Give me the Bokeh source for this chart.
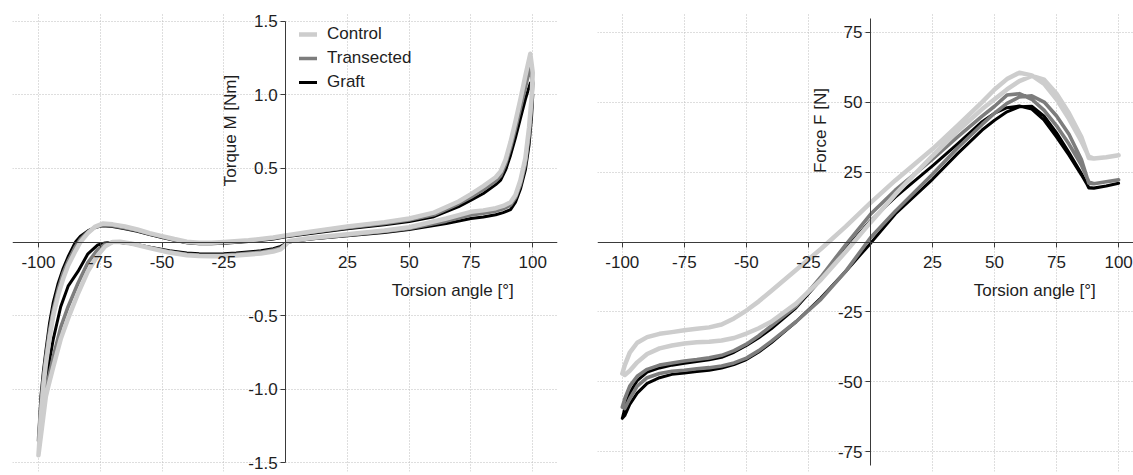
import math
from bokeh.plotting import figure
from bokeh.models import FixedTicker, PrintfTickFormatter, Label, Legend, LegendItem
from bokeh.layouts import row
from bokeh.embed import file_html
from bokeh.resources import INLINE

FONT = "Liberation Sans"

# ---------------- shared ticks / series ----------------
X_TICKS = [-100, -75, -50, -25, 25, 50, 75, 100]
TORQUE_TICKS = [-1.5, -1.0, -0.5, 0.5, 1.0, 1.5]
FORCE_TICKS = [-75, -50, -25, 25, 50, 75]
SERIES = ["Control", "Transected", "Graft"]
COLORS = {"Control": "#cdcdcd", "Transected": "#7d7d7d", "Graft": "#000000"}
WIDTHS = {"Control": 4.5, "Transected": 3.6, "Graft": 3.0}

# ---------------- data: left panel (torque) ----------------
# loading branch (angle increasing)
LEFT_X_UP = [-100, -99.5, -99, -98, -97, -95.5, -94, -92, -90, -88,
             -85, -83, -80, -77, -74, -70, -65, -60, -55, -50,
             -45, -40, -35, -30, -25, -15, -5, 0, 10, 25,
             40, 50, 60, 70, 75, 80, 85, 87, 89, 91,
             93, 95, 97, 99]
CONTROL_UP = [-1.45, -1.32, -1.18, -0.98, -0.83, -0.65, -0.50, -0.36, -0.25, -0.16,
              -0.06, 0.0, 0.06, 0.105, 0.125, 0.12, 0.105, 0.085, 0.06, 0.04,
              0.02, 0.002, -0.005, -0.005, 0.0, 0.012, 0.03, 0.045, 0.07, 0.105,
              0.135, 0.16, 0.20, 0.275, 0.325, 0.38, 0.44, 0.48, 0.56, 0.68,
              0.82, 0.97, 1.13, 1.28]
TRANSECTED_UP = [-1.35, -1.22, -1.10, -0.92, -0.78, -0.60, -0.46, -0.32, -0.21, -0.13,
                 -0.03, 0.02, 0.07, 0.10, 0.115, 0.11, 0.095, 0.078, 0.055, 0.035,
                 0.016, -0.002, -0.009, -0.009, -0.004, 0.008, 0.025, 0.04, 0.064, 0.097,
                 0.126, 0.15, 0.185, 0.26, 0.305, 0.355, 0.415, 0.45, 0.53, 0.64,
                 0.77, 0.91, 1.05, 1.19]
GRAFT_UP = [-1.38, -1.20, -1.05, -0.88, -0.74, -0.55, -0.41, -0.28, -0.18, -0.10,
            0.0, 0.04, 0.075, 0.10, 0.11, 0.105, 0.09, 0.072, 0.05, 0.03,
            0.012, -0.005, -0.012, -0.012, -0.008, 0.003, 0.02, 0.035, 0.058, 0.09,
            0.118, 0.14, 0.172, 0.24, 0.285, 0.33, 0.39, 0.42, 0.49, 0.59,
            0.71, 0.84, 0.97, 1.08]

# unloading branch (angle decreasing)
LEFT_X_DN = [100, 99.5, 98.5, 97, 95, 93, 91, 88, 85, 80,
             75, 65, 50, 40, 25, 10, 3, 1, 0, -2,
             -5, -10, -20, -25, -30, -35, -40, -47, -55, -62,
             -67, -70, -73, -76, -80, -84, -88, -91, -94, -96,
             -97, -98.5, -100]
CONTROL_DN = [1.15, 0.98, 0.78, 0.57, 0.42, 0.32, 0.27, 0.245, 0.23, 0.215,
              0.205, 0.16, 0.10, 0.078, 0.052, 0.027, 0.01, 0.003, -0.02, -0.05,
              -0.065, -0.078, -0.092, -0.097, -0.097, -0.095, -0.09, -0.072, -0.042, -0.012,
              0.002, 0.0, -0.03, -0.09, -0.2, -0.35, -0.52, -0.66, -0.85, -0.98,
              -1.05, -1.25, -1.45]
TRANSECTED_DN = [1.08, 0.92, 0.72, 0.53, 0.39, 0.30, 0.25, 0.225, 0.21, 0.195,
                 0.183, 0.142, 0.092, 0.071, 0.047, 0.023, 0.007, 0.0, -0.016, -0.04,
                 -0.055, -0.069, -0.083, -0.088, -0.09, -0.088, -0.083, -0.066, -0.038, -0.012,
                 0.0, -0.001, -0.015, -0.05, -0.14, -0.28, -0.44, -0.58, -0.78, -0.93,
                 -1.0, -1.18, -1.35]
GRAFT_DN = [1.0, 0.85, 0.66, 0.49, 0.36, 0.27, 0.22, 0.2, 0.185, 0.17,
            0.16, 0.125, 0.085, 0.065, 0.043, 0.02, 0.005, -0.002, -0.012, -0.03,
            -0.045, -0.06, -0.075, -0.08, -0.082, -0.08, -0.075, -0.06, -0.035, -0.012,
            -0.003, -0.002, -0.006, -0.02, -0.08, -0.2, -0.3, -0.44, -0.66, -0.85,
            -0.95, -1.15, -1.38]

# ---------------- data: right panel (force) ----------------
RIGHT_X = [-100, -99, -97, -94, -90, -85, -80, -75, -70, -65,
           -60, -55, -50, -45, -40, -30, -20, -10, 0, 10,
           25, 35, 45, 50, 55, 60, 65, 70, 75, 80,
           85, 88, 90, 95, 100]
CONTROL_F_A = [-47, -44, -39.5, -36, -34, -32.8, -32.2, -31.5, -31, -30.5,
               -29.5, -27.3, -24.5, -21.2, -17.5, -10, -2.5, 5.5, 14, 22,
               33.2, 41.5, 50, 54.5, 58.2, 60.5, 59.5, 56.5, 51, 44,
               36, 30.5, 29.8, 30.3, 31]
CONTROL_F_B = [-47, -47.5, -46, -43, -40, -38, -37, -36.3, -35.8, -35.6,
               -35.2, -34.3, -32.7, -30.8, -28.5, -22, -13.5, -3.5, 7, 17,
               30.8, 39.5, 47.5, 51, 54.5, 57.5, 59.3, 58, 53, 46,
               37.5, 30, 29.8, 30.3, 31]
TRANSECTED_F_A = [-59, -56, -51.5, -48, -45.5, -44, -43.2, -42.5, -42, -41.4,
                  -40.5, -38.8, -36.5, -33.5, -30, -23, -12.5, -1, 9.9, 18.5,
                  29.6, 37.5, 45, 48.5, 52.5, 53, 51, 47, 41.5, 35,
                  27.5, 21.5, 20.8, 21.5, 22.2]
TRANSECTED_F_B = [-59, -59.5, -56, -51.5, -48.5, -47, -46.2, -45.8, -45.3, -44.9,
                  -44.3, -43.2, -41.5, -38.8, -35.5, -28.5, -20.5, -10.5, 1.5, 11,
                  24.2, 33.5, 42, 46, 49.5, 51.8, 52.2, 50, 45, 38.5,
                  29.5, 21, 20.8, 21.5, 22.2]
GRAFT_F_A = [-63, -59.5, -54, -49.5, -46.5, -45, -44, -43.3, -42.7, -42.1,
             -41.2, -39.4, -37, -34.2, -31, -23.5, -13.5, -2.5, 7.6, 16,
             27.2, 35, 43, 46, 48, 48.6, 47.5, 43.5, 37.5, 31,
             24, 19.5, 19.3, 20, 21]
GRAFT_F_B = [-63, -62, -58, -54, -50.5, -48.5, -47.3, -46.8, -46.3, -45.8,
             -45, -43.8, -42, -39.3, -36, -28.5, -20, -10.5, -0.5, 10,
             22.4, 31.5, 40, 43.5, 46.5, 48.3, 48.5, 45, 39, 32,
             24.5, 19.3, 19.2, 20, 21]

TORQUE = {"Control": (CONTROL_UP, CONTROL_DN),
          "Transected": (TRANSECTED_UP, TRANSECTED_DN),
          "Graft": (GRAFT_UP, GRAFT_DN)}
FORCE = {"Control": (CONTROL_F_A, CONTROL_F_B),
         "Transected": (TRANSECTED_F_A, TRANSECTED_F_B),
         "Graft": (GRAFT_F_A, GRAFT_F_B)}

FIG_H = 475
MB_TOP = 12
MB_BOTTOM = 4


def make_fig(width, x_range, y_range, y_bounds, mbl, mbr, yticks, yfmt):
    p = figure(width=width, height=FIG_H, x_range=x_range, y_range=y_range,
               output_backend="svg", toolbar_location=None, tools="",
               min_border_left=mbl, min_border_right=mbr,
               min_border_top=MB_TOP, min_border_bottom=MB_BOTTOM)
    p.outline_line_color = None
    p.background_fill_color = "white"
    p.border_fill_color = "white"
    p.xaxis.fixed_location = 0
    p.yaxis.fixed_location = 0
    p.yaxis.bounds = y_bounds
    p.xaxis.ticker = FixedTicker(ticks=X_TICKS)
    p.yaxis.ticker = FixedTicker(ticks=yticks)
    p.xgrid.ticker = FixedTicker(ticks=X_TICKS)
    p.ygrid.ticker = FixedTicker(ticks=yticks)
    p.xaxis.formatter = PrintfTickFormatter(format="%d")
    p.yaxis.formatter = PrintfTickFormatter(format=yfmt)
    for ax in list(p.xaxis) + list(p.yaxis):
        ax.axis_line_color = "#3a3a3a"
        ax.axis_line_width = 1
        ax.major_tick_line_color = "#3a3a3a"
        ax.major_tick_out = 5
        ax.major_tick_in = 0
        ax.minor_tick_line_color = None
        ax.major_label_text_font = FONT
        ax.major_label_text_font_size = "17px"
        ax.major_label_text_color = "#1e1e1e"
    p.xaxis.major_label_standoff = 9
    p.yaxis.major_label_standoff = 3
    for g in list(p.xgrid) + list(p.ygrid):
        g.grid_line_color = "#bdbdbd"
        g.grid_line_dash = "1 2"
        g.grid_line_width = 1
    return p


def add_label(p, x, y, text, angle=0.0):
    p.add_layout(Label(x=x, y=y, text=text, angle=angle,
                       text_align="center", text_baseline="middle",
                       text_font=FONT, text_font_size="17px",
                       text_color="#1e1e1e"))


# ---------------- left figure ----------------
p1 = make_fig(597, (-110.5, 110), (-1.56, 1.56), (-1.5, 1.5), 12, 40, TORQUE_TICKS, "%.1f")
renderers = {}
for name in ["Graft", "Transected", "Control"]:
    up, dn = TORQUE[name]
    xs = LEFT_X_UP + LEFT_X_DN
    ys = up + dn
    renderers[name] = p1.line(xs, ys, line_color=COLORS[name], line_width=WIDTHS[name],
                              line_join="round", line_cap="round")
add_label(p1, -22.3, 0.758, "Torque M [Nm]", angle=math.pi / 2)
add_label(p1, 67.6, -0.33, "Torsion angle [°]")

frame_h = FIG_H - MB_TOP - MB_BOTTOM
legend = Legend(items=[LegendItem(label=n, renderers=[renderers[n]]) for n in SERIES],
                location=(287, frame_h - 82), glyph_width=18, glyph_height=24,
                label_height=24, spacing=0, padding=0, margin=0,
                label_standoff=10, label_text_font=FONT,
                label_text_font_size="17px", label_text_color="#1e1e1e",
                border_line_color=None, background_fill_alpha=0)
p1.add_layout(legend)

# ---------------- right figure ----------------
p2 = make_fig(536, (-110, 106), (-82, 82), (-80, 80), 0, 0, FORCE_TICKS, "%d")
for name in ["Graft", "Transected", "Control"]:
    a, b = FORCE[name]
    xs = RIGHT_X + RIGHT_X[::-1]
    ys = a + b[::-1]
    p2.line(xs, ys, line_color=COLORS[name], line_width=WIDTHS[name],
            line_join="round", line_cap="round")
add_label(p2, -20.1, 39.8, "Force F [N]", angle=math.pi / 2)
add_label(p2, 66.2, -17.3, "Torsion angle [°]")

layout = row(p1, p2)
open("out.html", "w").write(file_html(layout, INLINE))
